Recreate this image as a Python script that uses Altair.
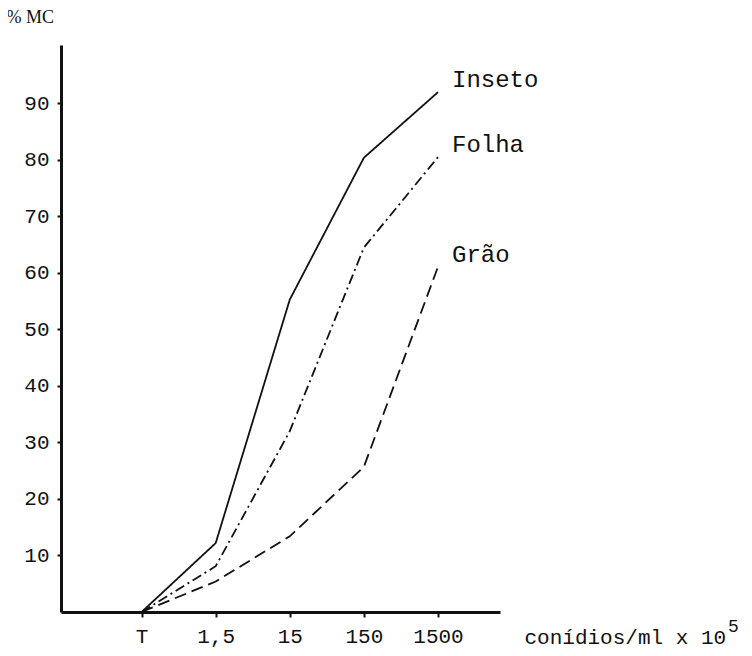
import json
import altair as alt
import pandas as pd

# ---- data ----
doses = ["T", "1,5", "15", "150", "1500"]          # x categories (equally spaced)
dose_pos = [0, 1, 2, 3, 4]
series = ["Inseto", "Folha", "Grão"]
inseto = [0, 12.2, 55.3, 80.4, 92.0]
folha = [0, 8.1, 32.0, 64.5, 80.5]
grao = [0, 5.4, 13.4, 25.7, 61.1]
y_ticks = [10, 20, 30, 40, 50, 60, 70, 80, 90]

values = {"Inseto": inseto, "Folha": folha, "Grão": grao}
rows = []
for s in series:
    for p, d, v in zip(dose_pos, doses, values[s]):
        rows.append({"serie": s, "pos": p, "dose": d, "pct": v})
df = pd.DataFrame(rows)

MONO = "Liberation Mono"
INK = "#111"
label_expr = json.dumps(doses) + "[datum.value]"

x = alt.X(
    "pos:Q",
    scale=alt.Scale(domain=[-1.088, 4.837], nice=False, zero=False),
    axis=alt.Axis(
        values=dose_pos,
        labelExpr=label_expr,
        grid=False,
        domainColor=INK,
        domainWidth=3,
        tickColor=INK,
        tickWidth=2,
        tickSize=5,
        title="conídios/ml x 10",
        titleX=463,
        titleY=31,
        titleAlign="left",
        titleAnchor="start",
        titleBaseline="alphabetic",
        titleFont=MONO,
        titleFontSize=21,
        titleFontWeight="normal",
        titleColor=INK,
        labelFont=MONO,
        labelFontSize=21,
        labelColor=INK,
        labelBaseline="alphabetic",
        labelPadding=25,
    ),
)
y = alt.Y(
    "pct:Q",
    scale=alt.Scale(domain=[0, 100.35], nice=False),
    axis=alt.Axis(
        values=y_ticks,
        grid=False,
        domainColor=INK,
        domainWidth=3,
        tickColor=INK,
        tickWidth=2,
        tickSize=4,
        title="% MC",
        titleAngle=0,
        titleX=-55,
        titleY=-28,
        titleAlign="left",
        titleBaseline="middle",
        titleFont="Liberation Serif",
        titleFontSize=18,
        titleFontWeight="normal",
        titleColor=INK,
        labelFont=MONO,
        labelFontSize=21,
        labelColor=INK,
        labelPadding=8,
    ),
)

lines = alt.Chart(df).mark_line(color=INK, strokeWidth=1.8).encode(
    x=x,
    y=y,
    strokeDash=alt.StrokeDash(
        "serie:N",
        scale=alt.Scale(domain=series, range=[[1, 0], [10, 4, 2, 4], [12, 6]]),
        legend=None,
    ),
    order="pos:Q",
)

labels = (
    alt.Chart(df)
    .transform_filter("datum.pos == 4")
    .mark_text(align="left", baseline="alphabetic", dx=14, dy=-5,
               font=MONO, fontSize=24, color=INK)
    .encode(x="pos:Q", y="pct:Q", text="serie:N")
)

sup = (
    alt.Chart(pd.DataFrame({"t": ["5"]}))
    .mark_text(align="left", baseline="alphabetic", font=MONO,
               fontSize=18, color=INK)
    .encode(x=alt.value(667), y=alt.value(587), text="t:N")
)

chart = (
    alt.layer(lines, labels, sup)
    .properties(
        width=439,
        height=567,
        autosize=alt.AutoSizeParams(type="none"),
        padding={"left": 53, "top": 37, "right": 244, "bottom": 36},
    )
    .configure(background="white")
    .configure_view(stroke=None)
)

chart.save("out.html", embed_options={"renderer": "svg", "actions": False})
